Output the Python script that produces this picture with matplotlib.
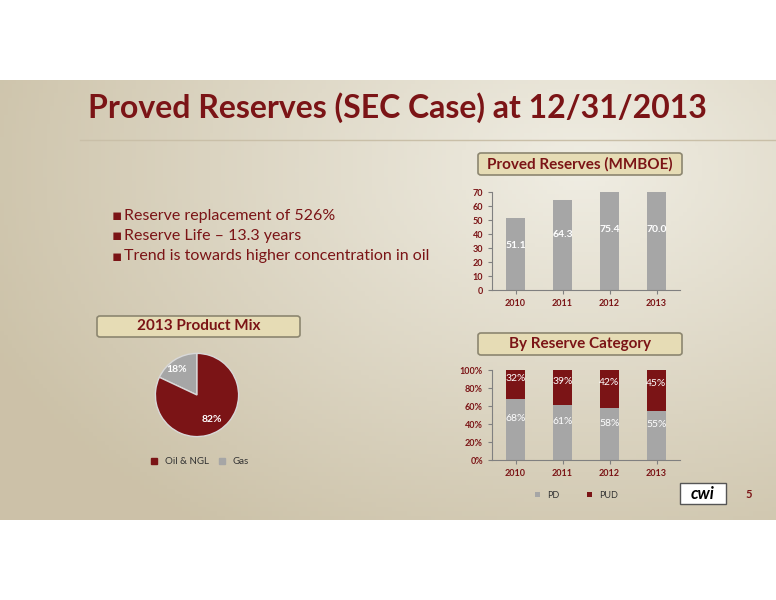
import numpy as np
import matplotlib.pyplot as plt
from matplotlib.patches import FancyBboxPatch, Rectangle, Patch

years = ['2010', '2011', '2012', '2013']
reserves = [51.1, 64.3, 75.4, 70.0]
pd_share = [68, 61, 58, 55]
pud_share = [32, 39, 42, 45]
mix_labels = ['Oil & NGL', 'Gas']
mix_values = [82, 18]
bullets = ['Reserve replacement of 526%', 'Reserve Life \u2013 13.3 years',
           'Trend is towards higher concentration in oil']

RED = '#7B1416'
GRAY = '#A6A6A6'
W, H = 776, 600

plt.rcParams['font.family'] = ['Lato', 'DejaVu Sans']
fig = plt.figure(figsize=(7.76, 6), dpi=100)


def ax_px(x0, y0, x1, y1):
    return fig.add_axes([x0 / W, 1 - y1 / H, (x1 - x0) / W, (y1 - y0) / H])


# slide background gradient
bg = ax_px(0, 80, 776, 520)
gx = np.linspace(0, 1, 200)
gy = np.linspace(0, 1, 100)
X, Y = np.meshgrid(gx, gy)
d = np.sqrt(((X - 0.75) * 1.2) ** 2 + (Y - 0.8) ** 2)
t = np.clip(d / 1.0, 0, 1)
c_light = np.array([0.94, 0.93, 0.89])
c_dark = np.array([0.80, 0.76, 0.66])
img = c_light[None, None, :] * (1 - t[..., None]) + c_dark[None, None, :] * t[..., None]
bg.imshow(img, aspect='auto', extent=[0, 1, 0, 1], origin='lower')
bg.axis('off')

fig.text(88 / W, 1 - 108 / H, 'Proved Reserves (SEC Case) at 12/31/2013',
         fontsize=23, fontweight='bold', color=RED, va='center')
fig.add_artist(plt.Line2D([80 / W, 776 / W], [1 - 140 / H] * 2, color='#C9BFA8', lw=1))

for i, b in enumerate(bullets):
    y = 1 - (216 + i * 20) / H
    fig.text(112 / W, y, '\u25aa', fontsize=11, color=RED, va='center', family='DejaVu Sans')
    fig.text(124 / W, y, b, fontsize=11.5, color=RED, va='center')


def header(x0, y0, x1, y1, text):
    p = FancyBboxPatch((x0 / W, 1 - y1 / H), (x1 - x0) / W, (y1 - y0) / H,
                       boxstyle='round,pad=0,rounding_size=0.004', transform=fig.transFigure,
                       facecolor='#E6DCB5', edgecolor='#8C8670', lw=1.2)
    fig.add_artist(p)
    fig.text((x0 + x1) / 2 / W, 1 - (y0 + y1) / 2 / H, text, ha='center', va='center',
             fontsize=11, fontweight='bold', color=RED)


header(478, 153, 682, 175, 'Proved Reserves (MMBOE)')
header(97, 316, 300, 337, '2013 Product Mix')
header(478, 333, 682, 355, 'By Reserve Category')

# top bar chart
ax1 = ax_px(492, 192, 680, 290)
x = np.arange(len(years))
ax1.bar(x, reserves, width=0.42, color=GRAY)
ax1.set_ylim(0, 70)
ax1.set_yticks(range(0, 71, 10))
ax1.set_xlim(-0.5, 3.5)
ax1.set_xticks(x, years)
for xi, v in zip(x, reserves):
    ax1.text(xi, min(v, 70) * 0.62, f'{v:.1f}', ha='center', va='center', color='white',
             fontsize=7.5, fontweight='bold')

# bottom stacked chart
ax2 = ax_px(492, 370, 680, 460)
ax2.bar(x, pd_share, width=0.42, color=GRAY, label='PD')
ax2.bar(x, pud_share, bottom=pd_share, width=0.42, color=RED, label='PUD')
ax2.set_ylim(0, 100)
ax2.set_yticks(range(0, 101, 20), [f'{v}%' for v in range(0, 101, 20)])
ax2.set_xlim(-0.5, 3.5)
ax2.set_xticks(x, years)
for xi, a, b in zip(x, pd_share, pud_share):
    ax2.text(xi, a * 0.5 + 12, f'{a}%', ha='center', va='center', color='white', fontsize=7.5)
    ax2.text(xi, a + b * 0.6 + 3, f'{b}%', ha='center', va='center', color='white', fontsize=7.5)
ax2.legend(loc='upper center', bbox_to_anchor=(0.45, -0.25), ncol=2, frameon=False,
           fontsize=6.5, handlelength=0.6, handleheight=0.6, columnspacing=3, labelcolor='#333333')

for ax in (ax1, ax2):
    ax.set_facecolor('none')
    for s in ('top', 'right'):
        ax.spines[s].set_visible(False)
    ax.spines['left'].set_color('#808080')
    ax.spines['bottom'].set_color('#808080')
    ax.tick_params(length=3, colors='#808080', labelsize=6.5)
    for lab in ax.get_xticklabels() + ax.get_yticklabels():
        lab.set_color(RED)
        lab.set_fontweight('bold')

# pie
ax3 = ax_px(145, 343, 249, 447)
ax3.pie(mix_values[::-1], colors=[GRAY, RED], startangle=90, counterclock=True,
        wedgeprops=dict(edgecolor='#D9D9D9', lw=1))
ax3.text(0.35, -0.65, '82%', color='white', fontsize=7.5, fontweight='bold', ha='center')
ax3.text(-0.5, 0.55, '18%', color='white', fontsize=7.5, fontweight='bold', ha='center')
ax3.set_aspect('equal')
fig.legend(handles=[Patch(color=RED, label=mix_labels[0]), Patch(color=GRAY, label=mix_labels[1])],
           loc='center', bbox_to_anchor=(200 / W, 1 - 462 / H), ncol=2, frameon=False,
           fontsize=7, handlelength=0.6, handleheight=0.6, columnspacing=1, labelcolor='#333333')

# logo and page number
fig.add_artist(Rectangle((680 / W, 1 - 504 / H), 46 / W, 21 / H, transform=fig.transFigure,
                         facecolor='white', edgecolor='#555555', lw=1))
fig.text(703 / W, 1 - 494 / H, 'cwi', fontsize=12, fontweight='bold', fontstyle='italic',
         color='black', ha='center', va='center')
fig.text(745 / W, 1 - 494 / H, '5', fontsize=8, fontweight='bold', color=RED, va='center')

fig.savefig('out.png', dpi=100)
